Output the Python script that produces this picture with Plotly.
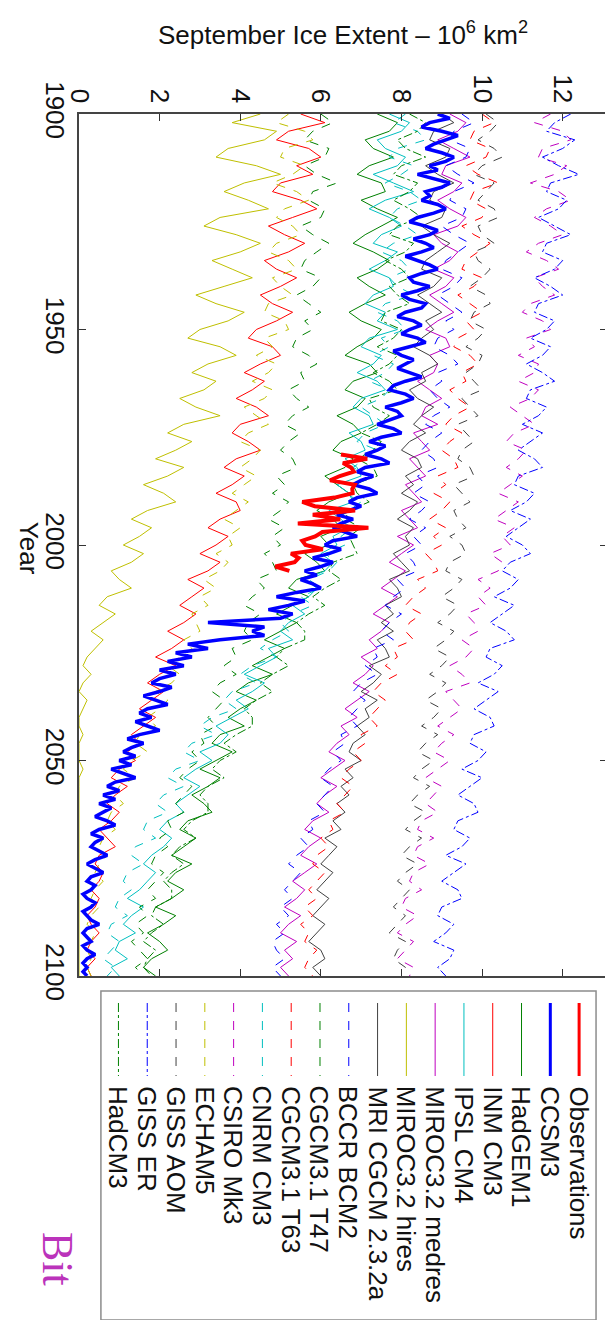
import plotly.graph_objects as go

# ---------------- data ----------------
years_annual = list(range(1900, 2101))
years_biennial = list(range(1900, 2101, 2))
obs_years = list(range(1979, 2007))

extent_ticks = [0, 2, 4, 6, 8, 10, 12]
year_ticks = [1900, 1950, 2000, 2050, 2100]

observations = [6.5, 7.15, 6.55, 6.75, 6.82, 6.47, 6.23, 6.84, 6.78, 6.79,
                6.34, 5.54, 5.85, 6.85, 5.8, 6.48, 5.43, 7.18, 6.04, 5.86,
                5.54, 5.62, 6.05, 5.26, 5.45, 5.35, 4.87, 5.22]

ccsm3 = [8.9, 9.2, 8.7, 8.5, 9.0, 9.4, 9.1, 8.8, 8.6, 9.0,
         9.3, 9.1, 8.7, 8.9, 8.4, 8.8, 9.2, 9.0, 8.6, 8.7,
         8.5, 8.9, 9.1, 8.8, 8.4, 8.2, 8.6, 8.9, 8.7, 8.3,
         8.6, 8.8, 8.5, 8.1, 8.4, 8.7, 8.9, 8.5, 8.2, 8.3,
         8.7, 8.4, 8.0, 8.2, 8.6, 8.5, 8.1, 7.9, 8.3, 8.5,
         8.2, 8.0, 8.4, 8.6, 8.2, 7.8, 8.0, 8.3, 8.1, 7.9,
         8.2, 8.5, 8.1, 7.8, 7.7, 8.1, 8.3, 8.0, 7.6, 7.9,
         8.0, 7.7, 7.4, 7.8, 8.0, 7.5, 7.2, 7.6, 7.4, 7.1,
         7.5, 7.7, 7.1, 6.9, 7.3, 7.0, 6.8, 7.2, 7.4, 6.9,
         6.7, 7.0, 6.7, 6.4, 6.8, 6.5, 6.3, 6.6, 6.9, 6.3,
         6.1, 6.5, 6.2, 5.8, 6.3, 6.0, 5.6, 5.9, 5.5, 5.8,
         6.0, 5.4, 4.9, 5.6, 5.2, 4.7, 5.3, 5.0, 3.2, 4.6,
         4.3, 4.6, 3.5, 2.7, 3.2, 2.4, 2.8, 2.2, 2.6, 2.0,
         2.4, 2.0, 1.8, 2.3, 2.0, 1.6, 1.9, 2.2, 1.7, 1.5,
         1.8, 1.4, 1.7, 2.0, 1.5, 1.2, 1.6, 1.3, 1.1, 1.4,
         1.0, 1.3, 0.8, 1.1, 1.4, 0.9, 0.7, 1.0, 0.6, 0.9,
         0.5, 0.8, 0.6, 0.4, 0.7, 0.9, 0.5, 0.3, 0.6, 0.4,
         0.3, 0.5, 0.7, 0.4, 0.2, 0.4, 0.6, 0.3, 0.2, 0.4,
         0.3, 0.1, 0.2, 0.4, 0.3, 0.1, 0.2, 0.3, 0.5, 0.2,
         0.1, 0.2, 0.3, 0.1, 0.2, 0.4, 0.2, 0.1, 0.2, 0.1,
         0.2]

hadgem1 = [7.4, 7.9, 7.7, 7.1, 7.3, 7.8, 7.2, 6.9, 7.5, 7.6,
           7.0, 7.4, 7.9, 7.5, 7.1, 6.8, 7.3, 7.7, 7.4, 6.9,
           7.2, 7.6, 7.1, 6.7, 7.0, 7.5, 7.3, 6.9, 6.6, 7.2,
           7.4, 6.8, 6.6, 7.1, 6.9, 6.4, 6.8, 7.0, 6.5, 6.3,
           6.8, 6.6, 6.1, 6.4, 6.7, 6.2, 5.9, 6.3, 6.5, 6.0,
           6.2, 5.6, 5.9, 6.1, 5.4, 5.2, 5.7, 5.3, 4.9, 5.4,
           5.0, 4.6, 5.1, 4.7, 4.3, 4.8, 4.2, 3.9, 4.4, 4.0,
           3.7, 4.1, 3.5, 3.3, 3.8, 3.4, 3.0, 3.5, 3.2, 2.8,
           3.1, 3.3, 2.7, 2.5, 2.9, 2.6, 2.3, 2.8, 2.4, 2.2,
           2.6, 2.3, 1.9, 2.4, 2.1, 1.7, 2.0, 2.2, 1.8, 1.6, 1.9]

inm_cm3 = [5.5, 6.1, 5.2, 4.9, 5.7, 6.0, 5.4, 5.8, 5.0, 4.8,
           5.5, 5.9, 5.3, 4.7, 5.1, 5.6, 5.2, 4.6, 4.9, 5.4,
           5.0, 4.5, 4.8, 5.3, 4.9, 4.4, 4.2, 4.8, 5.0, 4.5,
           4.1, 4.6, 4.3, 3.9, 4.4, 4.7, 4.0, 3.8, 4.2, 4.5,
           3.9, 3.6, 4.1, 3.8, 3.4, 3.9, 4.0, 3.5, 3.2, 3.7,
           3.4, 3.0, 3.5, 3.2, 2.7, 3.1, 2.8, 2.5, 2.9, 2.6,
           2.2, 2.6, 2.3, 1.9, 2.4, 2.0, 1.7, 2.1, 1.8, 1.5,
           1.9, 1.6, 1.3, 1.5, 1.2, 1.4, 1.0, 0.8, 1.2, 0.9,
           0.7, 1.0, 0.8, 0.5, 0.7, 0.9, 0.5, 0.4, 0.6, 0.5,
           0.3, 0.5, 0.4, 0.2, 0.3, 0.5, 0.3, 0.2, 0.4, 0.2, 0.3]

ipsl_cm4 = [7.7, 8.2, 8.0, 7.4, 7.6, 8.1, 7.9, 7.3, 7.8, 8.3,
            7.6, 7.2, 7.7, 8.0, 7.5, 7.3, 7.9, 7.6, 7.2, 7.7,
            7.8, 7.3, 7.1, 7.6, 7.4, 7.9, 7.2, 7.0, 7.5, 7.3,
            6.9, 7.4, 7.6, 7.0, 6.8, 7.2, 7.3, 6.7, 7.0, 7.1,
            6.6, 6.9, 7.0, 6.4, 6.7, 6.8, 6.2, 6.5, 6.7, 6.3,
            6.4, 6.0, 6.3, 6.1, 5.6, 5.9, 5.7, 5.3, 5.6, 5.2,
            5.0, 5.3, 4.7, 4.9, 4.5, 4.1, 4.6, 4.3, 3.9, 4.2,
            3.8, 3.4, 3.7, 3.5, 3.0, 3.3, 2.9, 2.6, 3.0, 2.7,
            2.4, 2.6, 2.2, 2.0, 2.3, 2.1, 1.8, 1.6, 1.9, 1.7,
            1.5, 1.2, 1.6, 1.3, 1.1, 1.4, 1.0, 0.9, 1.2, 0.8, 1.0]

miroc_medres = [9.2, 9.6, 9.4, 8.9, 9.3, 9.7, 9.1, 9.0, 9.5, 9.3,
                8.9, 9.2, 9.6, 9.4, 8.8, 9.0, 9.4, 9.2, 8.8, 9.3,
                9.1, 8.7, 9.0, 9.3, 8.9, 8.6, 9.1, 9.2, 8.7, 8.9,
                8.8, 8.4, 8.7, 9.0, 8.6, 8.5, 8.9, 8.3, 8.5, 8.7,
                8.2, 8.4, 8.6, 8.1, 8.3, 8.5, 8.0, 8.2, 8.4, 7.9,
                8.3, 8.0, 7.7, 8.1, 7.8, 7.5, 7.9, 7.6, 7.3, 7.7,
                7.5, 7.2, 7.4, 7.0, 7.3, 7.1, 6.8, 7.2, 6.9, 6.6,
                6.9, 6.5, 6.7, 6.4, 6.2, 6.6, 6.3, 6.0, 6.4, 6.1,
                5.9, 6.2, 5.8, 5.6, 6.0, 5.7, 5.5, 5.9, 5.6, 5.3,
                5.6, 5.4, 5.1, 5.5, 5.2, 5.0, 5.4, 5.1, 5.3, 5.0, 5.2]

miroc_hires = [4.5, 3.8, 4.9, 4.6, 3.7, 3.4, 4.4, 5.0, 4.1, 3.6,
               4.2, 4.7, 3.5, 3.1, 3.9, 4.5, 4.0, 3.3, 3.8, 4.3,
               3.6, 2.9, 3.4, 4.1, 3.7, 3.0, 2.7, 3.5, 3.9, 3.2,
               2.8, 3.4, 3.1, 2.5, 2.9, 3.5, 2.6, 2.2, 2.8, 2.4,
               1.9, 2.6, 2.2, 1.6, 2.1, 2.4, 1.7, 1.3, 1.8, 1.5,
               1.1, 1.6, 1.3, 0.8, 1.0, 1.3, 0.7, 0.5, 0.9, 0.6,
               0.3, 0.6, 0.4, 0.2, 0.1, 0.3, 0.1, 0.0, 0.2, 0.1,
               0.0, 0.0, 0.1, 0.0, 0.0, 0.0, 0.1, 0.0, 0.0, 0.0,
               0.0, 0.0, 0.0, 0.0, 0.0, 0.0, 0.0, 0.0, 0.0, 0.0,
               0.0, 0.0, 0.0, 0.0, 0.0, 0.0, 0.0, 0.0, 0.0, 0.0, 0.0]

mri_cgcm = [9.0, 9.3, 8.8, 8.7, 9.2, 9.1, 8.6, 8.9, 9.3, 8.8,
            8.7, 9.1, 9.0, 8.5, 8.8, 9.2, 8.9, 8.6, 8.5, 9.0,
            8.8, 8.4, 8.7, 9.0, 8.6, 8.8, 8.5, 8.3, 8.7, 8.9,
            8.5, 8.6, 8.2, 8.4, 8.8, 8.5, 8.3, 8.6, 8.2, 8.0,
            8.4, 8.5, 8.1, 8.3, 8.0, 8.4, 8.2, 7.9, 8.3, 8.1,
            8.2, 7.8, 8.0, 8.2, 7.7, 7.9, 8.0, 7.6, 7.8, 7.5,
            7.8, 7.4, 7.6, 7.7, 7.2, 7.5, 7.3, 7.0, 7.4, 7.1,
            7.2, 6.9, 7.1, 6.8, 6.7, 7.0, 6.6, 6.8, 6.5, 6.7,
            6.4, 6.6, 6.3, 6.5, 6.1, 6.4, 6.2, 6.0, 6.3, 6.1,
            5.9, 6.2, 6.0, 5.8, 6.1, 5.9, 5.7, 6.0, 6.1, 5.8, 6.0]

bccr_bcm2 = [9.5, 9.8, 9.3, 9.2, 9.7, 9.6, 9.1, 9.4, 9.8, 9.3,
             9.2, 9.6, 9.5, 9.0, 9.3, 9.7, 9.4, 9.1, 9.0, 9.5,
             9.3, 8.9, 9.2, 9.5, 9.1, 9.3, 8.9, 8.8, 9.2, 9.4,
             8.9, 9.0, 8.7, 8.9, 9.2, 8.8, 8.6, 9.0, 8.7, 8.5,
             8.8, 8.9, 8.4, 8.6, 8.3, 8.7, 8.5, 8.2, 8.6, 8.3,
             8.5, 8.1, 8.3, 8.4, 7.9, 8.1, 7.8, 7.6, 8.0, 7.7,
             7.5, 7.8, 7.3, 7.4, 7.1, 7.4, 7.0, 6.8, 7.1, 6.9,
             6.7, 6.9, 6.5, 6.6, 6.3, 6.5, 6.2, 6.0, 6.3, 6.1,
             5.9, 6.1, 5.7, 5.8, 5.5, 5.7, 5.4, 5.2, 5.5, 5.3,
             5.1, 5.3, 5.0, 5.2, 4.9, 5.1, 4.8, 4.9, 5.1, 4.8, 5.0]

cgcm_t47 = [6.0, 6.3, 5.8, 5.6, 6.2, 6.1, 5.6, 5.9, 6.4, 5.8,
            5.7, 6.1, 6.0, 5.5, 5.8, 6.2, 5.9, 5.6, 5.5, 6.0,
            5.8, 5.4, 5.7, 6.0, 5.6, 5.8, 5.4, 5.3, 5.7, 5.9,
            5.5, 5.6, 5.2, 5.4, 5.7, 5.3, 5.1, 5.5, 5.2, 5.0,
            5.3, 5.4, 4.9, 5.1, 4.8, 5.2, 5.0, 4.7, 5.1, 4.8,
            5.0, 4.6, 4.8, 4.9, 4.4, 4.6, 4.3, 4.1, 4.5, 4.2,
            4.1, 4.3, 3.8, 3.9, 3.6, 3.9, 3.5, 3.3, 3.6, 3.4,
            3.2, 3.4, 3.0, 3.1, 2.8, 3.0, 2.7, 2.5, 2.8, 2.6,
            2.4, 2.6, 2.2, 2.3, 2.0, 2.2, 1.9, 1.8, 2.1, 1.9,
            1.7, 1.9, 1.5, 1.7, 1.4, 1.6, 1.3, 1.5, 1.7, 1.4, 1.6]

cgcm_t63 = [10.0, 10.3, 9.8, 9.7, 10.2, 10.1, 9.6, 9.9, 10.4, 9.8,
            9.7, 10.1, 10.0, 9.5, 9.8, 10.2, 9.9, 9.6, 9.5, 10.0,
            9.8, 9.4, 9.7, 10.0, 9.6, 9.8, 9.4, 9.3, 9.7, 9.9,
            9.5, 9.6, 9.2, 9.4, 9.7, 9.3, 9.1, 9.5, 9.2, 9.0,
            9.3, 9.4, 8.9, 9.1, 8.8, 9.2, 9.0, 8.7, 9.1, 8.8,
            9.0, 8.6, 8.8, 8.9, 8.4, 8.6, 8.3, 8.1, 8.5, 8.2,
            8.1, 8.3, 7.8, 7.9, 7.6, 7.9, 7.5, 7.3, 7.6, 7.4,
            7.2, 7.4, 7.0, 7.1, 6.8, 7.0, 6.7, 6.5, 6.8, 6.6,
            6.4, 6.6, 6.2, 6.3, 6.0, 6.2, 5.9, 5.8, 6.1, 5.9,
            5.7, 5.9, 5.6, 5.8, 5.5, 5.7, 5.6, 5.9, 5.7, 5.6, 5.8]

cnrm_cm3 = [8.1, 7.8, 8.4, 8.6, 7.9, 7.7, 8.3, 8.0, 7.6, 8.2,
            8.5, 7.9, 7.7, 8.1, 8.4, 7.8, 7.5, 8.0, 8.2, 7.7,
            7.9, 8.3, 7.6, 7.4, 7.9, 8.1, 7.5, 7.7, 7.3, 7.8,
            7.6, 7.2, 7.7, 7.5, 7.0, 7.3, 7.6, 7.1, 6.9, 7.4,
            7.1, 6.8, 7.2, 6.9, 6.6, 7.0, 6.7, 6.4, 6.8, 6.5,
            6.6, 6.1, 6.4, 6.2, 5.7, 6.0, 5.5, 5.8, 5.3, 5.0,
            5.2, 4.8, 4.5, 4.9, 4.3, 4.0, 4.4, 3.8, 3.6, 3.9,
            3.3, 3.0, 3.4, 2.8, 2.6, 3.0, 2.4, 2.2, 2.6, 2.1,
            1.9, 2.2, 1.7, 1.6, 1.9, 1.4, 1.3, 1.6, 1.2, 1.1,
            1.3, 1.0, 0.9, 1.2, 0.8, 0.7, 1.0, 0.8, 0.6, 0.9, 0.7]

csiro_mk3 = [11.7, 11.3, 12.0, 12.2, 11.5, 11.4, 12.1, 11.8, 11.2, 11.9,
             12.2, 11.6, 11.3, 11.7, 12.0, 11.4, 11.1, 11.6, 11.9, 11.3,
             11.5, 11.8, 11.2, 11.0, 11.5, 11.7, 11.1, 11.3, 10.9, 11.4,
             11.3, 10.9, 11.4, 11.2, 10.7, 11.0, 11.3, 10.8, 10.6, 11.1,
             10.9, 10.6, 11.0, 10.7, 10.4, 10.9, 10.6, 10.3, 10.8, 10.5,
             10.7, 10.2, 10.5, 10.4, 9.9, 10.2, 9.9, 10.1, 9.6, 9.8,
             9.9, 9.5, 9.8, 9.6, 9.2, 9.5, 9.7, 9.1, 9.3, 9.5,
             9.2, 8.9, 9.3, 9.0, 8.8, 9.2, 8.9, 8.6, 9.0, 8.8,
             8.6, 8.9, 8.5, 8.4, 8.8, 8.4, 8.3, 8.7, 8.3, 8.2,
             8.5, 8.1, 8.0, 8.4, 8.1, 7.9, 8.3, 8.1, 7.9, 8.3, 8.2]

echam5 = [5.2, 4.9, 5.6, 5.8, 5.1, 5.0, 5.6, 5.3, 4.8, 5.4,
          5.7, 5.1, 4.9, 5.3, 5.5, 4.9, 4.7, 5.2, 5.4, 4.8,
          5.0, 5.3, 4.7, 4.6, 5.1, 5.2, 4.6, 4.8, 4.4, 4.9,
          4.7, 4.3, 4.8, 4.6, 4.1, 4.4, 4.7, 4.2, 4.0, 4.5,
          4.3, 4.0, 4.4, 4.1, 3.8, 4.2, 3.9, 3.6, 4.0, 3.7,
          3.8, 3.4, 3.7, 3.5, 3.1, 3.4, 3.0, 3.2, 2.8, 2.9,
          3.0, 2.6, 2.8, 2.5, 2.2, 2.5, 2.3, 1.9, 2.2, 2.0,
          1.7, 1.9, 1.5, 1.4, 1.7, 1.3, 1.1, 1.4, 1.0, 0.9,
          1.1, 0.8, 0.7, 0.9, 0.6, 0.5, 0.7, 0.5, 0.4, 0.6,
          0.4, 0.3, 0.5, 0.3, 0.2, 0.4, 0.3, 0.2, 0.3, 0.2, 0.3]

giss_aom = [10.1, 10.4, 10.2, 9.9, 10.3, 10.5, 10.0, 9.8, 10.3, 10.1,
            9.9, 10.3, 10.4, 9.9, 10.0, 10.3, 9.8, 9.9, 10.2, 10.0,
            9.7, 10.1, 10.2, 9.8, 9.7, 10.1, 9.9, 9.6, 10.0, 9.9,
            9.6, 9.8, 10.0, 9.5, 9.7, 9.9, 9.4, 9.6, 9.8, 9.5,
            9.4, 9.7, 9.8, 9.3, 9.5, 9.7, 9.3, 9.4, 9.6, 9.2,
            9.5, 9.6, 9.2, 9.1, 9.5, 9.3, 9.0, 9.4, 9.2, 8.9,
            9.3, 9.1, 8.8, 9.2, 9.0, 8.7, 9.1, 8.9, 8.6, 9.0,
            8.8, 8.5, 8.9, 8.6, 8.4, 8.8, 8.5, 8.3, 8.7, 8.4,
            8.2, 8.6, 8.3, 8.1, 8.5, 8.2, 8.0, 8.4, 8.1, 7.9,
            8.2, 8.0, 7.8, 8.1, 7.9, 7.7, 8.1, 7.9, 7.8, 8.1, 8.0]

giss_er = [12.2, 11.8, 11.6, 12.3, 12.0, 11.5, 11.9, 12.4, 11.7, 11.6,
           12.1, 11.9, 11.4, 11.8, 12.2, 11.6, 11.5, 12.0, 11.8, 11.3,
           11.7, 12.0, 11.4, 11.3, 11.8, 11.6, 11.2, 11.7, 11.5, 11.1,
           11.5, 11.8, 11.2, 11.1, 11.6, 11.4, 11.0, 11.5, 11.2, 10.9,
           11.3, 11.5, 10.9, 10.8, 11.3, 11.1, 10.7, 11.2, 10.9, 10.6,
           11.0, 11.2, 10.7, 10.5, 10.9, 10.7, 10.3, 10.8, 10.5, 10.2,
           10.6, 10.8, 10.2, 10.1, 10.5, 10.3, 9.9, 10.4, 10.1, 9.8,
           10.2, 10.3, 9.8, 9.7, 10.1, 9.9, 9.5, 10.0, 9.7, 9.4,
           9.8, 9.9, 9.4, 9.3, 9.7, 9.5, 9.1, 9.6, 9.3, 9.0,
           9.4, 9.5, 9.0, 8.9, 9.3, 9.1, 8.8, 9.3, 9.2, 8.9, 9.1]

hadcm3 = [8.2, 8.6, 8.4, 7.9, 8.1, 8.6, 8.0, 7.8, 8.4, 8.2,
          7.8, 8.2, 8.5, 7.9, 7.7, 8.3, 8.1, 7.6, 8.0, 8.2,
          7.7, 7.9, 8.2, 7.6, 7.5, 8.0, 7.8, 7.4, 7.9, 7.7,
          7.3, 7.7, 7.9, 7.2, 7.3, 7.7, 7.4, 7.0, 7.5, 7.3,
          6.9, 7.3, 7.4, 6.8, 6.9, 7.2, 6.7, 6.6, 7.0, 6.7,
          6.8, 6.9, 6.3, 6.2, 6.5, 6.1, 5.8, 6.1, 5.7, 5.4,
          5.6, 5.6, 5.1, 4.9, 5.2, 4.8, 4.5, 4.8, 4.4, 4.1,
          4.3, 4.3, 3.9, 3.6, 3.9, 3.5, 3.3, 3.6, 3.2, 3.0,
          3.2, 3.2, 2.8, 2.6, 2.9, 2.5, 2.3, 2.6, 2.3, 2.1,
          2.3, 2.3, 1.9, 1.8, 2.1, 1.8, 1.6, 1.9, 1.7, 1.6, 1.8]

legend_names = ["Observations", "CCSM3", "HadGEM1", "INM CM3", "IPSL CM4",
                "MIROC3.2 medres", "MIROC3.2 hires", "MRI CGCM 2.3.2a",
                "BCCR BCM2", "CGCM3.1 T47", "CGCM3.1 T63", "CNRM CM3",
                "CSIRO Mk3", "ECHAM5", "GISS AOM", "GISS ER", "HadCM3"]

series_x = [obs_years, years_annual] + [years_biennial] * 15
series_y = [observations, ccsm3, hadgem1, inm_cm3, ipsl_cm4, miroc_medres,
            miroc_hires, mri_cgcm, bccr_bcm2, cgcm_t47, cgcm_t63, cnrm_cm3,
            csiro_mk3, echam5, giss_aom, giss_er, hadcm3]

for nm, xs, ys in zip(legend_names, series_x, series_y):
    assert len(xs) == len(ys), (nm, len(xs), len(ys))

# ---------------- styles ----------------
styles = [
    dict(color="#ff0000", dash="solid", width=4),    # Observations
    dict(color="#0000ff", dash="solid", width=3.5),  # CCSM3
    dict(color="#008000", dash="solid", width=1),    # HadGEM1
    dict(color="#ff0000", dash="solid", width=1),    # INM CM3
    dict(color="#00bfbf", dash="solid", width=1),    # IPSL CM4
    dict(color="#bf00bf", dash="solid", width=1),    # MIROC medres
    dict(color="#bfbf00", dash="solid", width=1),    # MIROC hires
    dict(color="#404040", dash="solid", width=1),    # MRI
    dict(color="#0000ff", dash="dash", width=1),     # BCCR
    dict(color="#008000", dash="dash", width=1),     # CGCM T47
    dict(color="#ff0000", dash="dash", width=1),     # CGCM T63
    dict(color="#00bfbf", dash="dash", width=1),     # CNRM
    dict(color="#bf00bf", dash="dash", width=1),     # CSIRO
    dict(color="#bfbf00", dash="dash", width=1),     # ECHAM5
    dict(color="#404040", dash="dash", width=1),     # GISS AOM
    dict(color="#0000ff", dash="dashdot", width=1),  # GISS ER
    dict(color="#008000", dash="dashdot", width=1),  # HadCM3
]

FONT = "Liberation Sans, Arial, Helvetica, sans-serif"

fig = go.Figure()
draw_order = list(range(2, len(legend_names))) + [1, 0]
for i in draw_order:
    fig.add_trace(go.Scatter(
        x=series_y[i], y=series_x[i], mode="lines", name=legend_names[i],
        line=dict(color=styles[i]["color"], dash=styles[i]["dash"],
                  width=styles[i]["width"]),
        showlegend=False, hoverinfo="skip"))

# pixel geometry of the plot area
W, H = 613, 1320
L, R, T, B = 71, 12, 106, 352
pw, ph = W - L - R, H - T - B


def px(xp):
    return (xp - L) / pw


def py(yp):
    return (H - B - yp) / ph


shapes = []
annotations = []

# legend box (rotated legend)
shapes.append(dict(type="rect", xref="paper", yref="paper",
                   x0=px(93), x1=px(590), y0=py(983), y1=py(1312),
                   line=dict(color="#8c8c8c", width=1.5), fillcolor="white",
                   layer="above"))
for i, name in enumerate(legend_names):
    cx = 573 - 28.9 * i
    st = styles[i]
    shapes.append(dict(type="line", xref="paper", yref="paper",
                       x0=px(cx), x1=px(cx), y0=py(995), y1=py(1068),
                       line=dict(color=st["color"], dash=st["dash"],
                                 width=min(st["width"], 3)),
                       layer="above"))
    annotations.append(dict(text=name, xref="paper", yref="paper",
                            x=px(cx), y=py(1076), xanchor="center",
                            yanchor="top", textangle=90, showarrow=False,
                            font=dict(family=FONT, size=26, color="#111")))

# axis titles (rotated like the picture)
annotations.append(dict(text="September Ice Extent \u2013 10<sup>6</sup> km<sup>2</sup>",
                        xref="paper", yref="paper", x=0.5, y=py(25),
                        xanchor="center", yanchor="middle", showarrow=False,
                        font=dict(family=FONT, size=26, color="#111")))
annotations.append(dict(text="Year", xref="paper", yref="paper",
                        x=px(21), y=py(540), xanchor="center",
                        yanchor="middle", textangle=90, showarrow=False,
                        font=dict(family=FONT, size=26, color="#111")))
annotations.append(dict(text="Bit", xref="paper", yref="paper",
                        x=px(50), y=py(1251), xanchor="center",
                        yanchor="middle", textangle=90, showarrow=False,
                        font=dict(family="Liberation Serif, Times New Roman, serif",
                                  size=44, color="#bb33bb")))

fig.update_layout(
    width=W, height=H, autosize=False,
    margin=dict(l=L, r=R, t=T, b=B, pad=0),
    paper_bgcolor="white", plot_bgcolor="white",
    showlegend=False,
    shapes=shapes, annotations=annotations,
    font=dict(family=FONT, color="#111"),
    xaxis=dict(range=[0, 13.1], side="top", tickvals=extent_ticks,
               ticktext=[str(v) for v in extent_ticks], tickangle=90,
               ticks="inside", ticklen=7, tickcolor="#333",
               showline=True, linecolor="#444", linewidth=1.5,
               mirror="ticks", showgrid=False, zeroline=False,
               tickfont=dict(family=FONT, size=26, color="#111")),
    yaxis=dict(range=[2100, 1900], tickvals=year_ticks,
               ticktext=[str(v) for v in year_ticks], tickangle=90,
               ticks="inside", ticklen=7, tickcolor="#333",
               showline=True, linecolor="#444", linewidth=1.5,
               mirror="ticks", showgrid=False, zeroline=False,
               tickfont=dict(family=FONT, size=26, color="#111")),
)

fig.write_html("out.html")
